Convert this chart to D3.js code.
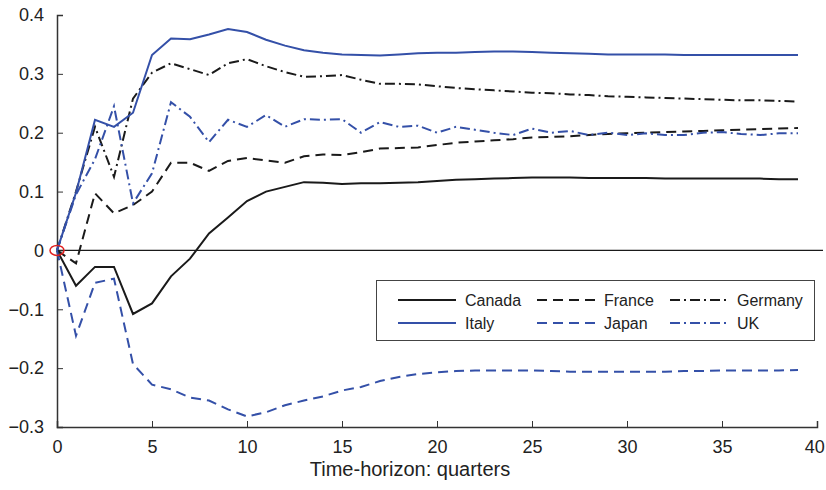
<!DOCTYPE html>
<html>
<head>
<meta charset="utf-8">
<script src="https://cdn.jsdelivr.net/npm/d3@7"></script>
<style>
  body { margin: 0; background: #fff; }
  text { font-family: "Liberation Sans", Arial, sans-serif; fill: #222; }
</style>
</head>
<body>
<div id="plot"></div>
<script>
// quarters 0..39
var quarters = d3.range(0, 40);

var canada  = [0, -0.06, -0.028, -0.028, -0.108, -0.09, -0.044, -0.014, 0.029, 0.056,
               0.084, 0.1, 0.108, 0.116, 0.115, 0.113, 0.114, 0.114, 0.115, 0.116,
               0.118, 0.12, 0.121, 0.122, 0.123, 0.124, 0.124, 0.124, 0.123, 0.123,
               0.123, 0.123, 0.122, 0.122, 0.122, 0.122, 0.122, 0.122, 0.121, 0.121];
var france  = [0, -0.022, 0.097, 0.063, 0.077, 0.1, 0.149, 0.149, 0.135, 0.152,
               0.157, 0.153, 0.149, 0.16, 0.163, 0.162, 0.167, 0.173, 0.174, 0.175,
               0.179, 0.183, 0.185, 0.187, 0.189, 0.192, 0.193, 0.194, 0.196, 0.198,
               0.199, 0.2, 0.201, 0.202, 0.203, 0.204, 0.205, 0.206, 0.207, 0.208];
var germany = [0, 0.1, 0.21, 0.125, 0.258, 0.302, 0.318, 0.308, 0.298, 0.318,
               0.325, 0.313, 0.303, 0.295, 0.296, 0.298, 0.29, 0.283, 0.283, 0.282,
               0.279, 0.276, 0.274, 0.272, 0.27, 0.268, 0.267, 0.265, 0.264, 0.262,
               0.261, 0.26, 0.259, 0.258, 0.257, 0.256, 0.255, 0.255, 0.254, 0.253];
var italy   = [0, 0.098, 0.222, 0.21, 0.234, 0.332, 0.36, 0.359, 0.367, 0.376,
               0.371, 0.358, 0.348, 0.34, 0.336, 0.333, 0.332, 0.331, 0.333, 0.335,
               0.336, 0.336, 0.337, 0.338, 0.338, 0.337, 0.336, 0.335, 0.334, 0.333,
               0.333, 0.333, 0.333, 0.332, 0.332, 0.332, 0.332, 0.332, 0.332, 0.332];
var japan   = [0, -0.145, -0.055, -0.048, -0.193, -0.228, -0.236, -0.25, -0.255, -0.27,
               -0.282, -0.275, -0.263, -0.255, -0.248, -0.238, -0.232, -0.222, -0.215, -0.21,
               -0.207, -0.205, -0.204, -0.204, -0.204, -0.204, -0.205, -0.206, -0.206, -0.206,
               -0.206, -0.206, -0.206, -0.205, -0.205, -0.204, -0.204, -0.204, -0.204, -0.203];
var uk      = [0, 0.095, 0.155, 0.245, 0.08, 0.131, 0.252, 0.227, 0.184, 0.222,
               0.21, 0.23, 0.21, 0.223, 0.222, 0.223, 0.2, 0.218, 0.21, 0.212,
               0.2, 0.21, 0.205, 0.2, 0.196, 0.207, 0.2, 0.203, 0.196, 0.2,
               0.196, 0.199, 0.196, 0.196, 0.2, 0.201, 0.198, 0.196, 0.199, 0.199];

var xTicks = [0, 5, 10, 15, 20, 25, 30, 35, 40];
var yTicks = [0.4, 0.3, 0.2, 0.1, 0, -0.1, -0.2, -0.3];

var blue = "#3450a8", black = "#1a1a1a";
var dash = "10,6", dashDot = "10,4,2,4";

var series = [
  {name: "Canada",  values: canada,  color: black, dash: null},
  {name: "France",  values: france,  color: black, dash: dash},
  {name: "Germany", values: germany, color: black, dash: dashDot},
  {name: "Italy",   values: italy,   color: blue,  dash: null},
  {name: "Japan",   values: japan,   color: blue,  dash: dash},
  {name: "UK",      values: uk,      color: blue,  dash: dashDot}
];

var W = 826, H = 490;
var svg = d3.select("div#plot").append("svg")
    .attr("width", W).attr("height", H);

var x = d3.scaleLinear().domain([0, 40]).range([57, 817]);
var y = d3.scaleLinear().domain([-0.3, 0.4]).range([427, 15]);

// zero line
svg.append("line")
  .attr("x1", x(0)).attr("x2", 823)
  .attr("y1", y(0)).attr("y2", y(0))
  .attr("stroke", black).attr("stroke-width", 1.3);

// axes
var fmt = function(d) { return d === 0 ? "0" : d3.format(".1f")(d).replace("-", "\u2212"); };

var yAxis = svg.append("g")
  .attr("transform", "translate(" + x(0) + ",0)")
  .call(d3.axisLeft(y).tickValues(yTicks).tickSize(-6).tickPadding(13).tickFormat(fmt));

var xAxis = svg.append("g")
  .attr("transform", "translate(0," + y(-0.3) + ")")
  .call(d3.axisBottom(x).tickValues(xTicks).tickSize(-6).tickPadding(10).tickFormat(d3.format("d")));

[yAxis, xAxis].forEach(function(a) {
  a.select(".domain").attr("stroke", "#333").attr("stroke-width", 1.5);
  a.selectAll(".tick line").attr("stroke", "#333").attr("stroke-width", 1);
  a.selectAll("text").attr("font-size", 18)
    .attr("font-family", "'Liberation Sans', Arial, sans-serif").attr("fill", "#222");
});
xAxis.selectAll(".tick text").attr("dy", "0.9em");
// last label sits against the right edge
xAxis.selectAll(".tick text").filter(function(d) { return d === 40; })
  .attr("text-anchor", "end").attr("dx", "0.4em");

svg.append("text")
  .attr("x", 410).attr("y", 476)
  .attr("text-anchor", "middle")
  .attr("font-size", 20)
  .text("Time-horizon: quarters");

// lines
var line = d3.line()
  .x(function(d, i) { return x(quarters[i]); })
  .y(function(d) { return y(d); });

svg.append("g").selectAll("path")
  .data(series)
  .enter().append("path")
    .attr("d", function(d) { return line(d.values); })
    .attr("fill", "none")
    .attr("stroke", function(d) { return d.color; })
    .attr("stroke-width", 2)
    .attr("stroke-dasharray", function(d) { return d.dash; });

// red marker at origin
svg.append("ellipse")
  .attr("cx", x(0)).attr("cy", y(0))
  .attr("rx", 7).attr("ry", 5)
  .attr("fill", "none").attr("stroke", "#e02020").attr("stroke-width", 1.5);

// legend
var legend = svg.append("g");
legend.append("rect")
  .attr("x", 376.5).attr("y", 280.5).attr("width", 438).attr("height", 60)
  .attr("fill", "#fff").attr("stroke", "#444").attr("stroke-width", 1);

var colX = [398, 537, 670], rowY = [300, 323];
series.forEach(function(s, i) {
  var cx = colX[i % 3], cy = rowY[Math.floor(i / 3)];
  legend.append("line")
    .attr("x1", cx).attr("x2", cx + 58).attr("y1", cy).attr("y2", cy)
    .attr("stroke", s.color).attr("stroke-width", 2)
    .attr("stroke-dasharray", s.dash);
  legend.append("text")
    .attr("x", cx + 67).attr("y", cy).attr("dy", "0.35em")
    .attr("font-size", 16)
    .text(s.name);
});
</script>
</body>
</html>
